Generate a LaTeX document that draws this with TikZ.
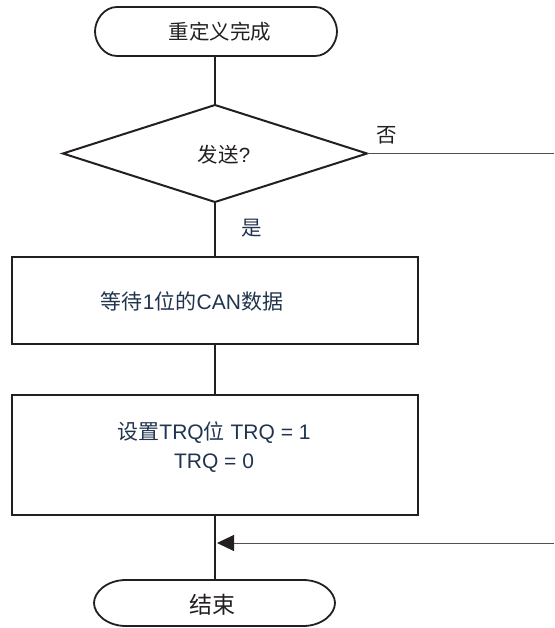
\documentclass[tikz,border=0pt]{standalone}
\usepackage{fontspec}
\setmainfont{Liberation Sans}
\newfontfamily\cjk{Noto Sans CJK SC}
\newcommand{\zh}[1]{{\cjk #1}}
\usetikzlibrary{shapes.geometric,arrows.meta,calc}
\definecolor{ink}{RGB}{35,31,32}
\definecolor{navy}{RGB}{33,52,78}
\definecolor{thinline}{RGB}{80,80,80}
\begin{document}
\begin{tikzpicture}[x=1pt,y=-1pt,
  termsty/.style={draw=ink,line width=1.8pt},
  termnode/.style={draw=none,inner sep=0pt,outer sep=0pt,minimum width=242pt,text=ink,font=\fontsize{20.5}{24}\selectfont},
  decsty/.style={diamond,draw=ink,line width=2pt,inner sep=0pt,outer sep=0pt,minimum width=304pt,minimum height=97pt},
  boxsty/.style={rectangle,draw=ink,line width=2.6pt,inner sep=0pt,outer sep=0pt,minimum width=406pt},
  boxtxt/.style={text=navy,align=center,font=\fontsize{21}{29}\selectfont},
  conn/.style={draw=ink,line width=2pt},
  thinconn/.style={draw=thinline,line width=1pt},
  lbl/.style={font=\fontsize{20.5}{24}\selectfont}
]
\useasboundingbox (0,0) rectangle (554,628);

% start terminator
\node[termnode,minimum height=49pt] (start) at (216,31.5) {};
\node[text=ink,font=\fontsize{20.5}{24}\selectfont] (startt) at (220,32) {\zh{重定义完成}};
\draw[termsty] (117,7) -- (315,7) .. controls (328,7) and (337,20) .. (337,31.5)
  .. controls (337,43) and (328,56) .. (315,56) -- (117,56)
  .. controls (104,56) and (95,43) .. (95,31.5)
  .. controls (95,20) and (104,7) .. (117,7) -- cycle;

% decision
\node[decsty] (dec) at (215,153.5) {};
\node[text=ink,font=\fontsize{20.5}{24}\selectfont] (dect) at (224,155) {\zh{发送}?};

% actions
\node[boxsty,minimum height=87pt] (act1) at (215,300.5) {};
\node[boxtxt] (act1t) at (192,301) {\zh{等待}1\zh{位的}CAN\zh{数据}};
\node[boxsty,minimum height=120pt] (act2) at (215,455) {};
\node[boxtxt] (act2t) at (214,447.5) {\zh{设置}TRQ\zh{位} TRQ = 1\\TRQ = 0};

% end terminator
\node[termnode,minimum height=46pt,font=\fontsize{23}{27}\selectfont] (end) at (214.5,603) {};
\node[text=ink,font=\fontsize{23}{27}\selectfont] (endt) at (212,605) {\zh{结束}};
\draw[termsty] (126,580) -- (303,580) .. controls (322,580) and (335,592) .. (335,603)
  .. controls (335,614) and (322,626) .. (303,626) -- (126,626)
  .. controls (107,626) and (94,614) .. (94,603)
  .. controls (94,592) and (107,580) .. (126,580) -- cycle;

% labels
\node[lbl,text=ink] (no) at (387,135) {\zh{否}};
\node[lbl,text=navy] (yes) at (252,228) {\zh{是}};

% connectors
\draw[conn] (start.south -| 215,0) -- (dec.north);
\draw[conn] (dec.south) -- (act1.north);
\draw[conn] (act1.south) -- (act2.north);
\draw[conn] (act2.south) -- (act2.south |- end.north);

\coordinate (exitR) at (554,153.5);
\coordinate (backR) at (554,543);
\coordinate (merge) at ($(act2.south |- backR)+(2,0)$);
\draw[thinconn] (dec.east) -- (exitR);
\draw[thinconn,-{Triangle[length=17pt,width=16pt,color=ink,fill=ink]}] (backR) -- (merge);
\end{tikzpicture}
\end{document}
